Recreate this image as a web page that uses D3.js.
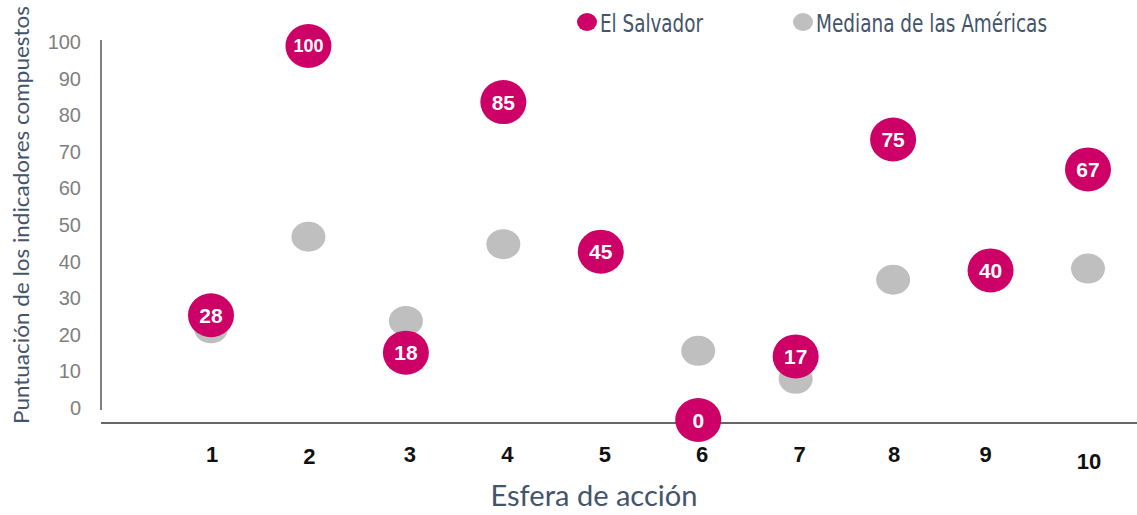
<!DOCTYPE html>
<html>
<head>
<meta charset="utf-8">
<script src="https://cdn.jsdelivr.net/npm/d3@7"></script>
<style>
  body { margin: 0; background: #fff; }
</style>
</head>
<body>
<script>
// datos
var esferas = [1, 2, 3, 4, 5, 6, 7, 8, 9, 10];
var elSalvador = [28, 100, 18, 85, 45, 0, 17, 75, 40, 67];
var medianaAmericas = [24.5, 49, 26.5, 47, null, 18.5, 11, 37.5, 39.5, 40.5];
var yTicks = [0, 10, 20, 30, 40, 50, 60, 70, 80, 90, 100];

var width = 1137, height = 515;
var pink = '#cc0066', grey = '#bfbfbf', slate = '#44546a';

var svg = d3.select('body').append('svg')
    .attr('width', width)
    .attr('height', height);

var x = d3.scaleLinear().domain([1, 10]).range([211, 1088]);
var y = d3.scaleLinear().domain([0, 100]).range([420, 46]);
// las etiquetas del eje quedan un poco desplazadas respecto a los puntos
var yLabels = d3.scaleLinear().domain([0, 100]).range([408, 42]);

// ejes
svg.append('line')
    .attr('x1', 101).attr('x2', 101)
    .attr('y1', 40).attr('y2', 410)
    .attr('stroke', '#555').attr('stroke-width', 1.5);

svg.append('line')
    .attr('x1', 101).attr('x2', width)
    .attr('y1', 423).attr('y2', 423)
    .attr('stroke', '#333').attr('stroke-width', 1.5);

svg.append('g').selectAll('text').data(yTicks)
    .enter().append('text')
    .attr('x', 81)
    .attr('y', function(d) { return yLabels(d); })
    .attr('dy', '0.35em')
    .attr('text-anchor', 'end')
    .attr('font-family', 'Liberation Sans, Arial, sans-serif')
    .attr('font-size', 20)
    .attr('fill', '#808080')
    .text(function(d) { return d; });

svg.append('g').selectAll('text').data(esferas)
    .enter().append('text')
    .attr('x', function(d) { return x(d) + (d == 9 ? -5 : d > 2 && d < 8 ? 4 : 1); })
    .attr('y', function(d) { return d == 10 ? 461 : d == 2 ? 456 : 454; })
    .attr('dy', '0.35em')
    .attr('text-anchor', 'middle')
    .attr('font-family', 'Liberation Sans, Arial, sans-serif')
    .attr('font-weight', 'bold')
    .attr('font-size', 22)
    .attr('fill', '#111')
    .text(function(d) { return d; });

// títulos
svg.append('text')
    .attr('transform', 'translate(29,215) rotate(-90)')
    .attr('text-anchor', 'middle')
    .attr('font-family', 'Lato, Open Sans, sans-serif')
    .attr('font-size', 21)
    .attr('fill', slate)
    .attr('textLength', 418)
    .attr('lengthAdjust', 'spacingAndGlyphs')
    .text('Puntuación de los indicadores compuestos');

svg.append('text')
    .attr('x', 594).attr('y', 506)
    .attr('text-anchor', 'middle')
    .attr('font-family', 'Lato, Open Sans, sans-serif')
    .attr('font-size', 28)
    .attr('fill', slate)
    .attr('textLength', 207)
    .attr('lengthAdjust', 'spacingAndGlyphs')
    .text('Esfera de acción');

// puntos de la mediana
var mediana = esferas.map(function(e, i) { return { e: e, v: medianaAmericas[i] }; })
    .filter(function(d) { return d.v != null; });

svg.append('g').selectAll('ellipse').data(mediana)
    .enter().append('ellipse')
    .attr('cx', function(d) { return x(d.e); })
    .attr('cy', function(d) { return y(d.v); })
    .attr('rx', 17)
    .attr('ry', 15)
    .attr('fill', grey);

// puntos de El Salvador
var salvador = esferas.map(function(e, i) { return { e: e, v: elSalvador[i] }; });

svg.append('g').selectAll('ellipse').data(salvador)
    .enter().append('ellipse')
    .attr('cx', function(d) { return x(d.e); })
    .attr('cy', function(d) { return y(d.v); })
    .attr('rx', 23)
    .attr('ry', 22)
    .attr('fill', pink);

svg.append('g').selectAll('text').data(salvador)
    .enter().append('text')
    .attr('x', function(d) { return x(d.e); })
    .attr('y', function(d) { return y(d.v); })
    .attr('dy', '0.36em')
    .attr('text-anchor', 'middle')
    .attr('font-family', 'Liberation Sans, Arial, sans-serif')
    .attr('font-weight', 'bold')
    .attr('font-size', function(d) { return d.v >= 100 ? 18 : 21; })
    .attr('fill', '#fff')
    .text(function(d) { return d.v; });

// leyenda
var legend = [
    { name: 'El Salvador', color: pink, cx: 587, tx: 600, len: 103 },
    { name: 'Mediana de las Américas', color: grey, cx: 803, tx: 816, len: 231 }
];

var lg = svg.append('g').selectAll('g').data(legend).enter().append('g');
lg.append('ellipse')
    .attr('cx', function(d) { return d.cx; })
    .attr('cy', 22)
    .attr('rx', 10).attr('ry', 9)
    .attr('fill', function(d) { return d.color; });
lg.append('text')
    .attr('x', function(d) { return d.tx; })
    .attr('y', 32)
    .attr('font-family', 'DejaVu Sans Condensed, Liberation Sans Narrow, sans-serif')
    .attr('font-size', 24)
    .attr('fill', slate)
    .attr('textLength', function(d) { return d.len; })
    .attr('lengthAdjust', 'spacingAndGlyphs')
    .text(function(d) { return d.name; });
</script>
</body>
</html>
